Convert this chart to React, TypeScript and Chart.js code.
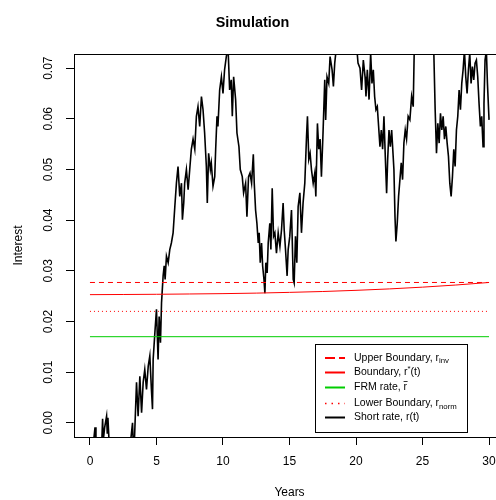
import React, { useEffect, useRef } from 'react';
import { Chart, registerables } from 'chart.js';

Chart.register(...registerables);

// ---- data ----
const xTickValues = [0, 5, 10, 15, 20, 25, 30];
const yTickValues = [0, 0.01, 0.02, 0.03, 0.04, 0.05, 0.06, 0.07];

const horizonYears = [0, 30];
const upperBoundaryRate = 0.0277;
const lowerBoundaryRate = 0.022;
const frmRate = 0.017;

const boundaryYears = [0, 2.5, 5, 7.5, 10, 12.5, 15, 17.5, 20, 22.5, 25, 27.5, 30];
const boundaryRates = [0.0253, 0.02533, 0.02537, 0.02543, 0.0255, 0.0256, 0.02575, 0.02592, 0.02615, 0.02643, 0.02678, 0.0272, 0.0277];

const shortYears = [
  0, 0.2, 0.38, 0.45, 0.7, 0.9, 0.95, 1.0, 1.1, 1.25, 1.3, 1.35, 1.45, 1.8, 2.2, 2.6, 3.0, 3.2, 3.25, 3.35,
  3.5, 3.62, 3.75, 3.88, 4.0, 4.12, 4.25, 4.38, 4.5, 4.62, 4.7, 4.75, 4.88, 5.0, 5.12, 5.2, 5.3, 5.38, 5.5, 5.58,
  5.65, 5.75, 5.88, 6.0, 6.12, 6.25, 6.38, 6.5, 6.62, 6.75, 6.88, 6.95, 7.05, 7.12, 7.25, 7.38, 7.5, 7.62, 7.75, 7.88,
  8.0, 8.12, 8.25, 8.38, 8.5, 8.62, 8.75, 8.82, 8.92, 9.05, 9.12, 9.25, 9.38, 9.45, 9.55, 9.62, 9.75, 9.88, 10.0, 10.12,
  10.25, 10.38, 10.5, 10.62, 10.7, 10.8, 10.95, 11.05, 11.2, 11.3, 11.45, 11.55, 11.7, 11.8, 11.92, 12.03, 12.15, 12.28, 12.35, 12.45,
  12.55, 12.65, 12.72, 12.8, 12.9, 12.98, 13.08, 13.15, 13.22, 13.32, 13.4, 13.52, 13.6, 13.7, 13.8, 13.9, 14.02, 14.15, 14.28, 14.4,
  14.52, 14.6, 14.7, 14.82, 14.9, 15.02, 15.15, 15.28, 15.35, 15.45, 15.55, 15.65, 15.78, 15.9, 16.02, 16.15, 16.28, 16.35, 16.45, 16.55,
  16.65, 16.78, 16.9, 16.98, 17.1, 17.2, 17.3, 17.4, 17.52, 17.65, 17.72, 17.82, 17.95, 18.05, 18.2, 18.3, 18.4, 18.52, 18.7, 18.9,
  19.1, 19.2, 19.35, 19.5, 19.7, 19.9, 20.0, 20.15, 20.3, 20.42, 20.55, 20.68, 20.75, 20.85, 20.98, 21.1, 21.2, 21.3, 21.4, 21.5,
  21.6, 21.7, 21.8, 21.9, 22.0, 22.1, 22.2, 22.3, 22.38, 22.48, 22.58, 22.68, 22.78, 22.85, 22.93, 23.0, 23.1, 23.2, 23.3, 23.4,
  23.5, 23.6, 23.7, 23.8, 23.92, 24.05, 24.18, 24.3, 24.38, 24.6, 24.9, 25.2, 25.5, 25.75, 25.85, 25.95, 26.05, 26.15, 26.25, 26.35,
  26.45, 26.55, 26.65, 26.75, 26.85, 26.95, 27.05, 27.15, 27.25, 27.35, 27.45, 27.55, 27.65, 27.75, 27.85, 27.95, 28.05, 28.15, 28.25, 28.35,
  28.45, 28.55, 28.65, 28.75, 28.85, 28.95, 29.05, 29.15, 29.25, 29.35, 29.45, 29.55, 29.62, 29.7, 29.8, 29.88, 30.0,
];
const shortRates = [
  -0.004, -0.0055, -0.0009, -0.005, -0.006, -0.003, 0.0008, -0.0035, -0.001, 0.0013, -0.002, 0.001, -0.0045, -0.007, -0.008, -0.0065, -0.005, 0.0, -0.004, -0.003,
  0.008, 0.0013, 0.0092, 0.002, 0.008, 0.0105, 0.0066, 0.0112, 0.0132, 0.0066, 0.0027, 0.0125, 0.0178, 0.0224, 0.0125, 0.021, 0.0158, 0.0237, 0.029, 0.031,
  0.0283, 0.0329, 0.0316, 0.0342, 0.0355, 0.0375, 0.0427, 0.0473, 0.0506, 0.0447, 0.0473, 0.0401, 0.0434, 0.0473, 0.05, 0.046, 0.05, 0.054, 0.056, 0.054,
  0.0605, 0.0624, 0.0585, 0.0644, 0.0618, 0.0572, 0.0506, 0.0434, 0.0532, 0.05, 0.0513, 0.0467, 0.0486, 0.054, 0.0605, 0.0585, 0.0657, 0.0683, 0.065, 0.0697,
  0.0723, 0.074, 0.0657, 0.0677, 0.0605, 0.0683, 0.0638, 0.0572, 0.0545, 0.05, 0.0486, 0.0454, 0.0473, 0.0407, 0.0486, 0.0493, 0.0473, 0.053, 0.0473, 0.042,
  0.0394, 0.0355, 0.0375, 0.0316, 0.0355, 0.031, 0.0283, 0.0256, 0.0316, 0.0296, 0.0355, 0.0394, 0.0342, 0.0463, 0.0368, 0.0375, 0.0335, 0.0375, 0.0348, 0.0381,
  0.0434, 0.0381, 0.0342, 0.029, 0.0342, 0.0368, 0.042, 0.0283, 0.0276, 0.0368, 0.0316, 0.0427, 0.0454, 0.0375, 0.0434, 0.0473, 0.0565, 0.0605, 0.052, 0.0532,
  0.05, 0.0473, 0.0493, 0.0447, 0.0591, 0.054, 0.056, 0.0486, 0.0572, 0.0677, 0.0598, 0.0683, 0.067, 0.0723, 0.0697, 0.0664, 0.071, 0.074, 0.078, 0.076,
  0.08, 0.0732, 0.0735, 0.079, 0.082, 0.0733, 0.076, 0.071, 0.07, 0.0657, 0.0716, 0.0683, 0.0644, 0.0697, 0.0638, 0.073, 0.067, 0.0697, 0.0644, 0.0618,
  0.0624, 0.0585, 0.0545, 0.0578, 0.054, 0.0605, 0.0526, 0.0453, 0.052, 0.0578, 0.0545, 0.0578, 0.0532, 0.05, 0.0407, 0.0358, 0.0394, 0.0447, 0.048, 0.0513,
  0.048, 0.0552, 0.0578, 0.056, 0.0605, 0.0598, 0.0644, 0.0624, 0.074, 0.08, 0.085, 0.082, 0.078, 0.076, 0.073, 0.0618, 0.0532, 0.0591, 0.0552, 0.0611,
  0.0578, 0.0605, 0.056, 0.0585, 0.0552, 0.0526, 0.0473, 0.0447, 0.0486, 0.054, 0.0506, 0.0578, 0.0605, 0.0657, 0.0618, 0.067, 0.0697, 0.0735, 0.0683, 0.065,
  0.0697, 0.073, 0.067, 0.0703, 0.0677, 0.071, 0.0716, 0.0683, 0.063, 0.0585, 0.0605, 0.0545, 0.063, 0.0716, 0.0735, 0.067, 0.0598,
];

const seriesNames = ['Upper Boundary', 'Boundary', 'FRM rate', 'Lower Boundary', 'Short rate'];

const RED = '#FF0000';
const GREEN = '#00CD00';
const FONT = '"Liberation Sans", Arial, Helvetica, sans-serif';

// Legend drawn R-style with sub/superscripts
const rLegendPlugin = {
  id: 'rLegend',
  afterDatasetsDraw(chart: any) {
    const { ctx, chartArea } = chart;
    const left = Math.round(chartArea.left) + 241;
    const top = Math.round(chartArea.top) + 290;
    const w = 152;
    const h = 88;
    ctx.save();
    ctx.fillStyle = '#fff';
    ctx.fillRect(left, top, w, h);
    ctx.strokeStyle = '#000';
    ctx.lineWidth = 1;
    ctx.setLineDash([]);
    ctx.strokeRect(left + 0.5, top + 0.5, w, h);

    const rows = [14, 28.5, 43.5, 59.5, 73.5];
    const styles = [
      { color: RED, dash: [10, 4], lw: 2 },
      { color: RED, dash: [], lw: 2 },
      { color: GREEN, dash: [], lw: 2 },
      { color: RED, dash: [1.5, 5], lw: 1.5 },
      { color: '#000', dash: [], lw: 2 },
    ];
    const mainFont = `10.5px ${FONT}`;
    const smallFont = `7.8px ${FONT}`;
    rows.forEach((ry, i) => {
      const y = top + ry;
      const st = styles[i];
      ctx.beginPath();
      ctx.strokeStyle = st.color;
      ctx.lineWidth = st.lw;
      ctx.setLineDash(st.dash);
      ctx.moveTo(left + 10, y);
      ctx.lineTo(left + 30, y);
      ctx.stroke();
      ctx.setLineDash([]);

      ctx.fillStyle = '#000';
      ctx.textBaseline = 'middle';
      ctx.textAlign = 'left';
      let tx = left + 39;
      const put = (s: string, font: string, dy: number) => {
        ctx.font = font;
        ctx.fillText(s, tx, y + dy);
        tx += ctx.measureText(s).width;
      };
      const name = seriesNames[i];
      if (i === 0) {
        put(name + ', r', mainFont, 0);
        put('inv', smallFont, 3);
      } else if (i === 1) {
        put(name + ', r', mainFont, 0);
        put('*', smallFont, -4);
        put('(t)', mainFont, 0);
      } else if (i === 2) {
        put(name + ', ', mainFont, 0);
        ctx.font = mainFont;
        const rw = ctx.measureText('r').width;
        const rx = tx;
        put('r', mainFont, 0);
        ctx.beginPath();
        ctx.strokeStyle = '#000';
        ctx.lineWidth = 0.8;
        ctx.moveTo(rx, y - 6);
        ctx.lineTo(rx + rw + 0.5, y - 6);
        ctx.stroke();
      } else if (i === 3) {
        put(name + ', r', mainFont, 0);
        put('norm', smallFont, 3);
      } else {
        put(name + ', r(t)', mainFont, 0);
      }
    });
    ctx.restore();
  },
};

const boxPlugin = {
  id: 'rBox',
  afterDraw(chart: any) {
    const { ctx, chartArea } = chart;
    ctx.save();
    ctx.strokeStyle = '#000';
    ctx.lineWidth = 1;
    ctx.setLineDash([]);
    ctx.strokeRect(
      Math.round(chartArea.left) + 0.5,
      Math.round(chartArea.top) + 0.5,
      Math.round(chartArea.right - chartArea.left),
      Math.round(chartArea.bottom - chartArea.top)
    );
    ctx.restore();
  },
};

export default function App() {
  const canvasRef = useRef<HTMLCanvasElement | null>(null);

  useEffect(() => {
    const canvas = canvasRef.current;
    if (!canvas) return;
    Chart.defaults.font.family = FONT;
    Chart.defaults.color = '#000';

    const flat = (v: number) => horizonYears.map((x) => ({ x, y: v }));

    const chart = new Chart(canvas, {
      type: 'line',
      data: {
        datasets: [
          { label: seriesNames[0], data: flat(upperBoundaryRate), borderColor: RED, borderWidth: 1, borderDash: [5, 4], pointRadius: 0 },
          { label: seriesNames[1], data: boundaryYears.map((x, i) => ({ x, y: boundaryRates[i] })), borderColor: RED, borderWidth: 1, pointRadius: 0, cubicInterpolationMode: 'monotone' },
          { label: seriesNames[2], data: flat(frmRate), borderColor: GREEN, borderWidth: 1, pointRadius: 0 },
          { label: seriesNames[3], data: flat(lowerBoundaryRate), borderColor: RED, borderWidth: 1, borderDash: [1, 3], pointRadius: 0 },
          { label: seriesNames[4], data: shortYears.map((x, i) => ({ x, y: shortRates[i] })), borderColor: '#000', borderWidth: 1.6, pointRadius: 0 },
        ] as any,
      },
      options: {
        animation: false,
        responsive: false,
        events: [],
        layout: { padding: { left: 0, right: 75, top: 0, bottom: 0 } },
        plugins: {
          legend: { display: false },
          tooltip: { enabled: false },
          title: {
            display: true,
            text: 'Simulation',
            color: '#000',
            font: { size: 14.4, weight: 'bold', family: FONT, lineHeight: 1.2 },
            padding: { top: 14.5, bottom: 22.22 },
          },
        },
        scales: {
          x: {
            type: 'linear',
            min: -1.2,
            max: 31.2,
            afterBuildTicks: (s: any) => {
              s.ticks = xTickValues.map((v) => ({ value: v }));
            },
            afterFit: (s: any) => {
              s.height = 63;
            },
            ticks: {
              color: '#000',
              font: { size: 12, family: FONT },
              padding: 9,
              maxRotation: 0,
              autoSkip: false,
              callback: (v: any) => String(v),
            },
            grid: { display: true, drawOnChartArea: false, drawTicks: true, tickLength: 8, color: '#000', lineWidth: 1 },
            border: { display: false },
            title: { display: true, text: 'Years', color: '#000', font: { size: 12, family: FONT }, padding: { top: 0, bottom: 0 } },
          },
          y: {
            type: 'linear',
            min: -0.0028,
            max: 0.0728,
            afterBuildTicks: (s: any) => {
              s.ticks = yTickValues.map((v) => ({ value: v }));
            },
            afterFit: (s: any) => {
              s.width = 74;
            },
            ticks: {
              color: '#000',
              font: { size: 12, family: FONT },
              padding: 6,
              minRotation: 90,
              maxRotation: 90,
              crossAlign: 'center',
              autoSkip: false,
              callback: (v: any) => Number(v).toFixed(2),
            },
            grid: { display: true, drawOnChartArea: false, drawTicks: true, tickLength: 8, color: '#000', lineWidth: 1 },
            border: { display: false },
            title: { display: true, text: 'Interest', color: '#000', font: { size: 12, family: FONT }, padding: { top: 11, bottom: 0 } },
          },
        },
      } as any,
      plugins: [boxPlugin, rLegendPlugin],
    });

    return () => chart.destroy();
  }, []);

  return (
    <div style={{ position: 'fixed', left: 0, top: 0, width: 496, height: 500, overflow: 'hidden', background: '#fff' }}>
      <canvas ref={canvasRef} width={580} height={500} style={{ display: 'block' }} />
    </div>
  );
}
